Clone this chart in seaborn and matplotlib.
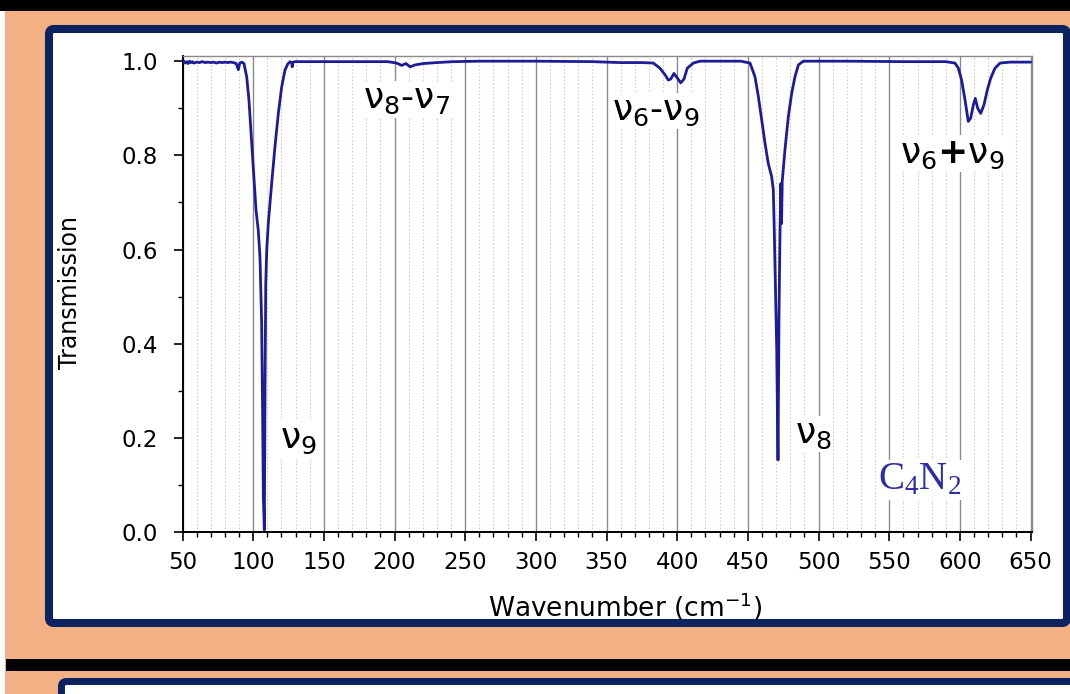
import matplotlib
matplotlib.use("Agg")
import matplotlib.pyplot as plt
import matplotlib.transforms as mtransforms
from matplotlib.patches import Rectangle, FancyBboxPatch
from matplotlib.ticker import MultipleLocator, FormatStrFormatter
import numpy as np
import pandas as pd
import seaborn as sns

# ---------------- data ----------------
wavenumber = [50, 51, 52, 53, 54, 55, 56, 57, 58, 60, 62, 64, 66, 68, 70, 72, 74, 76, 78, 80,
              82, 84, 86, 88, 89.5, 90.5, 92, 93.5, 95.4, 97.0, 98.5, 100.1, 102.0, 103.6, 104.8,
              106.0, 106.7, 107.2, 107.9, 108.4, 108.9, 109.6, 110.7, 113.1, 115.4, 117.8, 120.2,
              122.5, 124.5, 126.1, 127.2, 127.6, 128.0, 130, 140, 160, 180, 195, 201.5, 205.1,
              208.1, 211.0, 214.5, 220.4, 229.8, 241.6, 260, 300, 340, 360, 375, 383.1, 387.8,
              391.4, 393.7, 395.4, 397.7, 400.1, 402.5, 404.8, 407.1, 411.4, 416.1, 430, 445,
              451.5, 455.0, 457.4, 459.8, 462.1, 464.4, 466.8, 468.0, 468.7, 469.4, 470.4, 471.3,
              472.0, 472.7, 473.3, 473.8, 474.3, 476.2, 478.6, 481.0, 483.3, 485.7, 489.2, 520,
              560, 590, 596.5, 598.9, 601.2, 603.6, 605.9, 607.6, 609.5, 610.9, 612.6, 614.7,
              617.0, 619.4, 621.8, 624.8, 628.4, 635.4, 650]
transmission = [0.997, 1.000, 0.996, 0.999, 0.995, 1.000, 0.997, 0.999, 0.996, 0.998, 0.997, 0.999,
                0.997, 0.998, 0.997, 0.998, 0.996, 0.998, 0.997, 0.998, 0.997, 0.998, 0.997, 0.995,
                0.982, 0.996, 0.998, 0.995, 0.967, 0.918, 0.847, 0.769, 0.684, 0.641, 0.585,
                0.444, 0.245, 0.075, 0.004, 0.316, 0.528, 0.599, 0.656, 0.741, 0.818, 0.889, 0.946,
                0.981, 0.994, 0.999, 0.997, 0.988, 0.998, 0.999, 0.999, 0.999, 0.999, 0.999, 0.996,
                0.991, 0.995, 0.988, 0.992, 0.995, 0.997, 0.999, 1.000, 1.000, 0.999, 0.997, 0.997,
                0.996, 0.985, 0.971, 0.960, 0.962, 0.974, 0.964, 0.954, 0.962, 0.985, 0.996, 1.000,
                1.000, 1.000, 0.996, 0.967, 0.925, 0.875, 0.826, 0.783, 0.755, 0.726, 0.635, 0.529,
                0.387, 0.153, 0.457, 0.635, 0.740, 0.655, 0.745, 0.811, 0.882, 0.932, 0.967, 0.992,
                1.000, 1.000, 0.999, 0.999, 0.996, 0.985, 0.960, 0.918, 0.872, 0.879, 0.907, 0.921,
                0.900, 0.889, 0.907, 0.939, 0.964, 0.985, 0.996, 0.998, 0.998]

x_ticks = [50, 100, 150, 200, 250, 300, 350, 400, 450, 500, 550, 600, 650]
y_ticks = [0.0, 0.2, 0.4, 0.6, 0.8, 1.0]

band_labels = [r"$\mathregular{ν_8}$-$\mathregular{ν_7}$",
               r"$\mathregular{ν_6}$-$\mathregular{ν_9}$",
               r"$\mathregular{ν_6}$$\mathbf{+}$$\mathregular{ν_9}$",
               r"$\mathregular{ν_9}$",
               r"$\mathregular{ν_8}$"]
band_label_x = [177.7, 354.0, 557.6, 119.0, 483.3]
band_label_y = [0.900, 0.875, 0.784, 0.178, 0.189]

molecule = r"$\mathregular{C_4N_2}$"

# ---------------- styling ----------------
sns.set_style("white")
plt.rcParams["font.family"] = ["DejaVu Sans"]
plt.rcParams["text.color"] = "black"
plt.rcParams["axes.labelcolor"] = "black"
plt.rcParams["xtick.color"] = "black"
plt.rcParams["ytick.color"] = "black"

PEACH = "#f2b084"
NAVY = "#0c2160"
LINE = "#1c1c98"
MOLC = "#2d2aac"

W, H = 1070, 694
fig = plt.figure(figsize=(W / 100, H / 100), dpi=100, facecolor=PEACH)

# pixel transform (x right, y down, origin top-left)
px = mtransforms.Affine2D().scale(1 / 100, -1 / 100).translate(0, H / 100) + fig.dpi_scale_trans

def add(p):
    p.set_transform(px)
    p.set_zorder(-10)
    fig.add_artist(p)

add(Rectangle((0, 0), W, 11, fc="black", ec="none"))
add(Rectangle((0, 11), 5, H - 11, fc="white", ec="none"))
add(FancyBboxPatch((49, 29), 1067 - 49, 623 - 29,
                   boxstyle="round,pad=0,rounding_size=5",
                   fc="white", ec=NAVY, lw=5.8))
add(Rectangle((6, 659), W - 6, 12, fc="black", ec="none"))
add(FancyBboxPatch((61.5, 681.5), 1100, 100,
                   boxstyle="round,pad=0,rounding_size=5",
                   fc="white", ec=NAVY, lw=5.0))

# axes
ax_l, ax_r, ax_t, ax_b = 182.5, 1032, 56, 532
ax = fig.add_axes([ax_l / W, 1 - ax_b / H, (ax_r - ax_l) / W, (ax_b - ax_t) / H])
ax.set_facecolor("white")

df = pd.DataFrame({"Wavenumber": wavenumber, "Transmission": transmission})
sns.lineplot(data=df, x="Wavenumber", y="Transmission", ax=ax, color=LINE,
             linewidth=2.0, estimator=None, sort=False, zorder=3)

ax.set_xlim(50, 651)
ax.set_ylim(0, 1.011)
ax.set_xticks(x_ticks)
ax.set_yticks(y_ticks)
ax.xaxis.set_minor_locator(MultipleLocator(10))
ax.yaxis.set_minor_locator(MultipleLocator(0.1))
ax.yaxis.set_major_formatter(FormatStrFormatter("%.1f"))

ax.grid(False)
ax.grid(True, which="major", axis="x", color="#8a8a8a", lw=1.0, zorder=0)
ax.grid(True, which="minor", axis="x", color="#c4c4c4", lw=0.8,
        linestyle=(0, (1.2, 2.0)), zorder=0)
ax.set_axisbelow(True)

for s in ["left", "bottom"]:
    ax.spines[s].set_color("black")
    ax.spines[s].set_linewidth(1.4)
for s in ["top", "right"]:
    ax.spines[s].set_color("#8a8a8a")
    ax.spines[s].set_linewidth(1.0)

ax.tick_params(which="major", direction="out", length=6.5, width=1.2, color="black",
               labelsize=16.5, labelcolor="black",
               bottom=True, left=True, top=False, right=False)
ax.tick_params(which="minor", direction="out", length=3.6, width=1.0, color="black",
               bottom=True, left=True, top=False, right=False)
ax.tick_params(axis="x", which="major", pad=7)
ax.tick_params(axis="y", which="major", pad=11)

ax.set_xlabel(r"Wavenumber (cm$^{\mathregular{-1}}$)", fontsize=19, color="black")
ax.set_ylabel("Transmission", fontsize=17, color="black")
ax.xaxis.set_label_coords(0.5215, -0.122)
ax.yaxis.set_label_coords(-0.118, 0.504)

for lab, lx, ly in zip(band_labels, band_label_x, band_label_y):
    ax.text(lx, ly, lab, fontsize=26, color="black", ha="left", va="baseline",
            zorder=2, bbox=dict(facecolor="white", edgecolor="none", pad=1))

ax.text(542.2, 0.091, molecule, fontsize=28, family="Liberation Serif", color=MOLC,
        ha="left", va="baseline", zorder=2,
        bbox=dict(facecolor="white", edgecolor="none", pad=1))

fig.savefig("out.png", dpi=100, facecolor=PEACH)
